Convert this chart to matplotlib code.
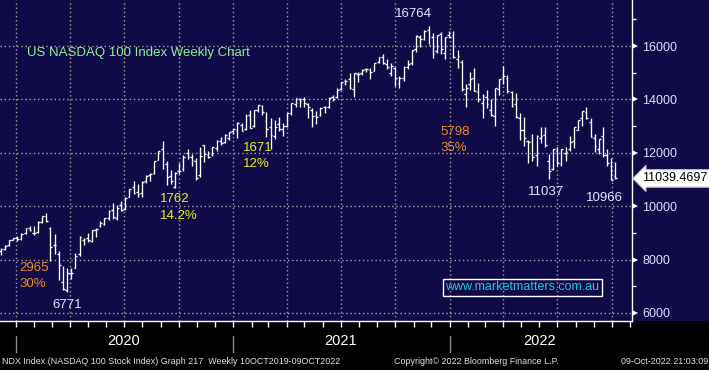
import numpy as np
import pandas as pd
import matplotlib
matplotlib.use("Agg")
import matplotlib.pyplot as plt
import matplotlib.dates as mdates
import matplotlib.transforms as mtransforms
from matplotlib.patches import Rectangle

plt.rcParams["font.family"] = ["Liberation Sans", "DejaVu Sans"]

# ===== weekly NDX bars, Fridays from 06 Dec 2019 to 07 Oct 2022 =====
first_week = "2019-12-06"

opens = [
    # 2019
    8340, 8390, 8530, 8740,
    # 2020
    8800, 8770, 8980, 9170, 8990, 9030, 9400, 9650, 9200, 8560, 8200, 7150, 6860,
    7480, 7700, 8200, 8730, 8800, 8700, 9120, 9250, 9350, 9560, 9850, 9570, 10040,
    9880, 10350, 10720, 10550, 10510, 10960, 11160, 11230, 11740, 12150, 11570, 11140,
    10720, 11300, 11380, 12000, 11830, 11700, 11150, 12300, 11930, 11950, 12180, 12450,
    12420, 12550,
    # 2021
    12800, 12860, 13040, 12900, 13410, 13000, 13600, 13750, 13200, 12950, 12640, 13070,
    12900, 13020, 13490, 13840, 14000, 14000, 13840, 13600, 13380, 13400, 13700, 13720,
    14080, 14080, 14390, 14680, 14750, 14400, 14950, 14980, 15130, 15100, 15080, 15400,
    15600, 15330, 15000, 15170, 14600, 14800, 15230, 15350, 15870, 16350, 16280, 16610,
    16350, 15800, 16450, 15750, 16420,
    # 2022
    16400, 15500, 15400, 14200, 14580, 14800, 14270, 13850, 14100, 13600, 13380, 14380,
    14850, 14810, 14260, 13830, 13300, 12850, 12430, 12460, 11900, 12560, 12660, 11700,
    11380, 12060, 11580, 12010, 12150, 12450, 12860, 13300, 13510, 13160, 12560, 12130,
    12640, 11900, 11500, 11130,
]
highs = [
    8420, 8530, 8740, 8810,
    8870, 8980, 9180, 9260, 9240, 9450, 9630, 9736, 9230, 8950, 8330, 7750, 7700,
    7700, 8250, 8880, 8820, 9010, 9120, 9190, 9450, 9570, 9850, 10120, 10030, 10180,
    10330, 10660, 10960, 10830, 10960, 11150, 11260, 11700, 12080, 12439, 11680, 11360,
    11280, 11600, 11900, 12160, 11950, 11790, 12200, 12300, 12050, 12230, 12470, 12610,
    12690, 12790,
    12890, 13170, 13100, 13460, 13620, 13590, 13807, 13800, 13540, 13300, 13230, 13330,
    13130, 13500, 13850, 14060, 14060, 14080, 13870, 13670, 13550, 13720, 13750, 14090,
    14180, 14410, 14650, 14780, 14980, 14980, 15030, 15130, 15190, 15170, 15380, 15600,
    15700, 15500, 15350, 15200, 14880, 15240, 15460, 15860, 16410, 16400, 16590, 16764,
    16500, 16420, 16520, 16350, 16550,
    16580, 15850, 15480, 14590, 15040, 15180, 14600, 14220, 14350, 14000, 14430, 14780,
    15265, 14920, 14300, 14250, 13500, 13350, 12470, 12690, 12650, 12950, 12950, 11950,
    12140, 12200, 12160, 12230, 12620, 12950, 13210, 13560, 13720, 13310, 12710, 12530,
    12950, 12140, 11790, 11640,
]
lows = [
    8180, 8350, 8510, 8720,
    8710, 8720, 8940, 9080, 8910, 9000, 9380, 9420, 7960, 8210, 7220, 6860, 6771,
    7280, 7690, 8120, 8550, 8660, 8660, 8830, 9210, 9290, 9500, 9520, 9490, 9810,
    9850, 10330, 10460, 10350, 10350, 10880, 10930, 11220, 11730, 11380, 10800, 10830,
    10677, 11200, 11300, 11760, 11500, 10970, 11100, 11650, 11790, 11880, 12060, 12290,
    12380, 12470,
    12710, 12560, 12800, 12840, 12920, 12960, 13540, 13410, 12600, 12136, 12530, 12800,
    12630, 12980, 13430, 13730, 13710, 13710, 13300, 12970, 13060, 13380, 13500, 13690,
    13950, 14040, 14370, 14530, 14400, 14100, 14670, 14900, 15020, 14760, 15060, 15380,
    15330, 15150, 14890, 14500, 14420, 14680, 15150, 15300, 15790, 15980, 16230, 16060,
    15560, 15750, 15700, 15500, 16300,
    15550, 15160, 14320, 13720, 14340, 14300, 13920, 13320, 13670, 13370, 13020, 14160,
    14560, 14250, 13700, 13320, 12480, 12240, 11630, 11690, 11500, 12370, 12210, 11037,
    11350, 11500, 11500, 11710, 12060, 12180, 12840, 13010, 13270, 12600, 12030, 11960,
    11860, 11510, 10966, 11000,
]
closes = [
    8400, 8520, 8730, 8800,
    8790, 8970, 9170, 9110, 8990, 9400, 9620, 9450, 8460, 8530, 7810, 6880, 7500,
    7480, 8150, 8830, 8780, 8720, 9120, 9150, 9380, 9560, 9820, 9590, 9950, 9850,
    10310, 10650, 10510, 10460, 10910, 11130, 11200, 11700, 12080, 11770, 11080, 10940,
    11250, 11330, 11850, 11860, 11730, 11050, 11890, 11940, 11860, 12210, 12460, 12380,
    12650, 12770,
    12890, 13100, 12830, 13390, 12930, 13590, 13800, 13530, 12900, 12670, 12960, 12880,
    13000, 13480, 13850, 14040, 13950, 13860, 13720, 13380, 13340, 13690, 13730, 14070,
    14030, 14360, 14640, 14700, 14430, 14980, 14960, 15110, 15150, 15010, 15380, 15590,
    15360, 15200, 15250, 14790, 14820, 15220, 15340, 15850, 16370, 16280, 16570, 16030,
    15710, 16410, 15900, 16340, 16320,
    15600, 15610, 14400, 14440, 14760, 14330, 14000, 14140, 13840, 13400, 14420, 14760,
    14860, 14300, 13750, 13350, 12850, 12570, 12390, 11840, 12640, 12620, 12280, 11300,
    12130, 11620, 12130, 12020, 12390, 12950, 13210, 13560, 13290, 12600, 12270, 12510,
    11930, 11630, 10970, 11039.4697,
]

price_ticks = [6000, 8000, 10000, 12000, 14000, 16000]
minor_price_ticks = [7000, 9000, 11000, 13000, 15000, 17000]
year_labels = ["2020", "2021", "2022"]
year_starts = ["2020-01-01", "2021-01-01", "2022-01-01"]
year_label_dates = ["2020-07-01", "2021-07-01", "2022-06-01"]
last_price = "11039.4697"

# (text, colour, x px, y px) - reference call-outs
notes = [
    ("16764", "#dfe8ff", 395, 14),
    ("2965", "#f08a28", 19, 268),
    ("30%", "#f08a28", 19, 284),
    ("6771", "#dfe8ff", 52, 305),
    ("1762", "#e8f020", 160, 199),
    ("14.2%", "#e8f020", 160, 216),
    ("1671", "#e8f020", 243, 148),
    ("12%", "#e8f020", 243, 164),
    ("5798", "#f08a28", 440, 132),
    ("35%", "#f08a28", 440, 148),
    ("11037", "#dfe8ff", 528, 192),
    ("10966", "#dfe8ff", 586, 198),
]

NAVY = "#100b48"
W, H = 709, 370
PLOT_R, PLOT_B = 632, 321

fig = plt.figure(figsize=(W / 100, H / 100), dpi=100, facecolor="black")
ax = fig.add_axes([0, 1 - PLOT_B / H, PLOT_R / W, PLOT_B / H])
ax.set_facecolor(NAVY)
# navy strip behind the price scale
fig.add_artist(Rectangle((PLOT_R / W, 1 - PLOT_B / H), 1 - PLOT_R / W, PLOT_B / H,
                         transform=fig.transFigure, fc=NAVY, ec="none", zorder=0))


def px(x, y):
    """pixel position -> axes fraction"""
    return x / PLOT_R, 1 - y / PLOT_B


weeks = pd.date_range(first_week, periods=len(closes), freq="W-FRI")
xd = mdates.date2num(weeks)
half = 3.0  # days, length of open/close ticks

ax.vlines(xd, lows, highs, color="white", lw=0.95, zorder=3)
ax.hlines(opens, xd - half, xd, color="white", lw=0.95, zorder=3)
ax.hlines(closes, xd, xd + half, color="white", lw=0.95, zorder=3)

x0 = mdates.date2num(pd.Timestamp("2019-12-05"))
ax.set_xlim(x0, x0 + PLOT_R / 0.5935)
ax.set_ylim(5700, 17723)

# grid: quarterly verticals, 2000-step horizontals
ax.xaxis.set_major_locator(mdates.MonthLocator(bymonth=[1, 4, 7, 10]))
ax.xaxis.set_minor_locator(mdates.MonthLocator())
ax.set_yticks(price_ticks)
ax.set_yticks(minor_price_ticks, minor=True)
ax.grid(True, which="major", color="#a0a0a0", linestyle=(0, (1, 2)), linewidth=1.0)
ax.set_axisbelow(True)

ax.tick_params(axis="x", which="both", direction="out", length=4, color="white",
               width=1, labelbottom=False)
ax.yaxis.tick_right()
ax.tick_params(axis="y", which="major", length=0, pad=7.5, labelsize=9,
               labelcolor="#d6e2ff")
ax.tick_params(axis="y", which="minor", length=3, color="white", width=1)

for s in ["top", "left"]:
    ax.spines[s].set_visible(False)
for s in ["right", "bottom"]:
    ax.spines[s].set_color("white")
    ax.spines[s].set_linewidth(1)

# little white arrows on the price scale
ytrans = mtransforms.blended_transform_factory(ax.transAxes, ax.transData)
ax.plot(np.full(len(price_ticks), 1.0055), price_ticks, ">", color="white",
        ms=4.5, mew=0, transform=ytrans, clip_on=False)

# last price tag
ax.text(1.0165, closes[-1], last_price, transform=ytrans, fontsize=9,
        color="black", va="center", ha="left", clip_on=False,
        bbox=dict(boxstyle="larrow,pad=0.22", fc="white", ec="#c0c0c0", lw=0.8))

# title
ax.text(*px(27, 53), "US NASDAQ 100 Index Weekly Chart", transform=ax.transAxes,
        color="#8ff08f", fontsize=9.5, va="center", ha="left")

for txt, col, x, y in notes:
    ax.text(*px(x, y), txt, transform=ax.transAxes, color=col, fontsize=9.5,
            va="center", ha="left")

# watermark
ax.text(*px(522, 287.5), "www.marketmatters.com.au", transform=ax.transAxes,
        color="#22c8d8", fontsize=9, va="center", ha="center",
        bbox=dict(boxstyle="square,pad=0.2", fc="none", ec="white", lw=1))

# year separators and labels under the axis
xtrans = mtransforms.blended_transform_factory(ax.transData, ax.transAxes)
for d in year_starts:
    xx = mdates.date2num(pd.Timestamp(d))
    ax.plot([xx, xx], [1 - 336 / PLOT_B, 1 - 352 / PLOT_B], color="#8a8a8a",
            lw=1, transform=xtrans, clip_on=False)
for lab, d in zip(year_labels, year_label_dates):
    ax.text(mdates.date2num(pd.Timestamp(d)), 1 - 341 / PLOT_B, lab,
            transform=xtrans, color="white", fontsize=10.5, ha="center", va="center",
            family=["Liberation Sans Narrow", "Liberation Sans"])

# footer
foot = dict(color="#e4e4e4", fontsize=6.4, va="center")
fig.text(2 / W, 1 - 361 / H,
         "NDX Index (NASDAQ 100 Stock Index) Graph 217  Weekly 10OCT2019-09OCT2022",
         ha="left", **foot)
fig.text(394 / W, 1 - 361 / H, "Copyright\u00a9 2022 Bloomberg Finance L.P.",
         ha="left", **foot)
fig.text(708 / W, 1 - 361 / H, "09-Oct-2022 21:03:09", ha="right", **foot)

fig.savefig("out.png", dpi=100, facecolor="black")
